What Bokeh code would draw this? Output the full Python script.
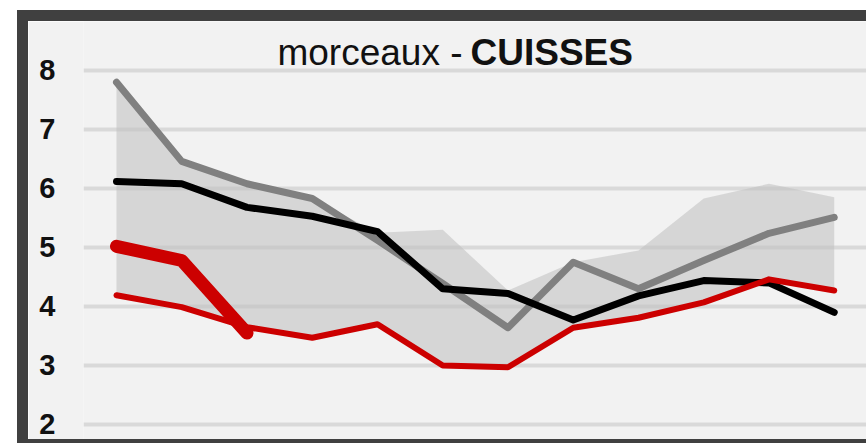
from bokeh.plotting import figure
from bokeh.models import Range1d, FixedTicker, Label
from bokeh.embed import file_html
from bokeh.resources import INLINE

# ---- data ----
periodes = list(range(12))
gris = [7.80, 6.46, 6.08, 5.83, 5.12, 4.39, 3.64, 4.75, 4.30, 4.78, 5.24, 5.51]
noir = [6.12, 6.08, 5.68, 5.53, 5.27, 4.30, 4.22, 3.77, 4.18, 4.44, 4.40, 3.90]
rouge = [4.19, 3.99, 3.65, 3.47, 3.70, 3.00, 2.97, 3.64, 3.81, 4.07, 4.46, 4.27]
rouge_epais = [5.02, 4.78, 3.55]
bande_haut = [7.80, 6.46, 6.08, 5.83, 5.25, 5.30, 4.27, 4.75, 4.95, 5.83, 6.08, 5.85]
bande_bas = rouge
y_ticks = [2, 3, 4, 5, 6, 7, 8]
titre_normal = "morceaux -"
titre_gras = "CUISSES"

FONT = "Liberation Sans"
BG = "#f2f2f2"
DARK = "#404040"

# element (border-box) 849x433 at margins 17/10; dark borders left/top/bottom
p = figure(width=849, height=433, output_backend="svg", toolbar_location=None,
           x_range=Range1d(-0.5057, 11.663), y_range=Range1d(1.4915, 8.8305),
           x_axis_location=None,
           min_border_left=55, min_border_right=0, min_border_top=0, min_border_bottom=0,
           background_fill_color=BG, border_fill_color=BG, outline_line_color=None,
           styles={"margin-left": "17px", "margin-top": "10px",
                   "border-left": f"11px solid {DARK}",
                   "border-top": f"11px solid {DARK}",
                   "border-bottom": f"4px solid {DARK}"})

p.xgrid.visible = False
p.ygrid.grid_line_color = "#d9d9d9"
p.ygrid.grid_line_width = 4
p.yaxis.ticker = FixedTicker(ticks=y_ticks)
p.yaxis.axis_line_color = None
p.yaxis.major_tick_line_color = None
p.yaxis.minor_tick_line_color = None
p.yaxis.major_tick_out = 0
p.yaxis.major_tick_in = 0
p.yaxis.major_label_standoff = 28
p.yaxis.major_label_text_font = FONT
p.yaxis.major_label_text_font_style = "bold"
p.yaxis.major_label_text_font_size = "29px"
p.yaxis.major_label_text_color = "#111111"

p.varea(x=periodes, y1=bande_bas, y2=bande_haut, fill_color="#bfbfbf", fill_alpha=0.55)
p.line(periodes, gris, line_color="#808080", line_width=7, line_cap="round", line_join="round")
p.line(periodes, noir, line_color="#000000", line_width=7, line_cap="round", line_join="round")
p.line(periodes, rouge, line_color="#cc0000", line_width=6, line_cap="round", line_join="round")
p.line(periodes[:len(rouge_epais)], rouge_epais, line_color="#cc0000", line_width=13,
       line_cap="round", line_join="round")

p.add_layout(Label(x=5.3027, y=8.305, text=titre_normal, text_align="right",
                   text_baseline="alphabetic", text_font=FONT, text_font_size="37px",
                   text_color="#111111"))
p.add_layout(Label(x=5.4253, y=8.305, text=titre_gras, text_align="left",
                   text_baseline="alphabetic", text_font=FONT, text_font_size="37px",
                   text_font_style="bold", text_color="#111111"))

open("out.html", "w").write(file_html(p, INLINE))
